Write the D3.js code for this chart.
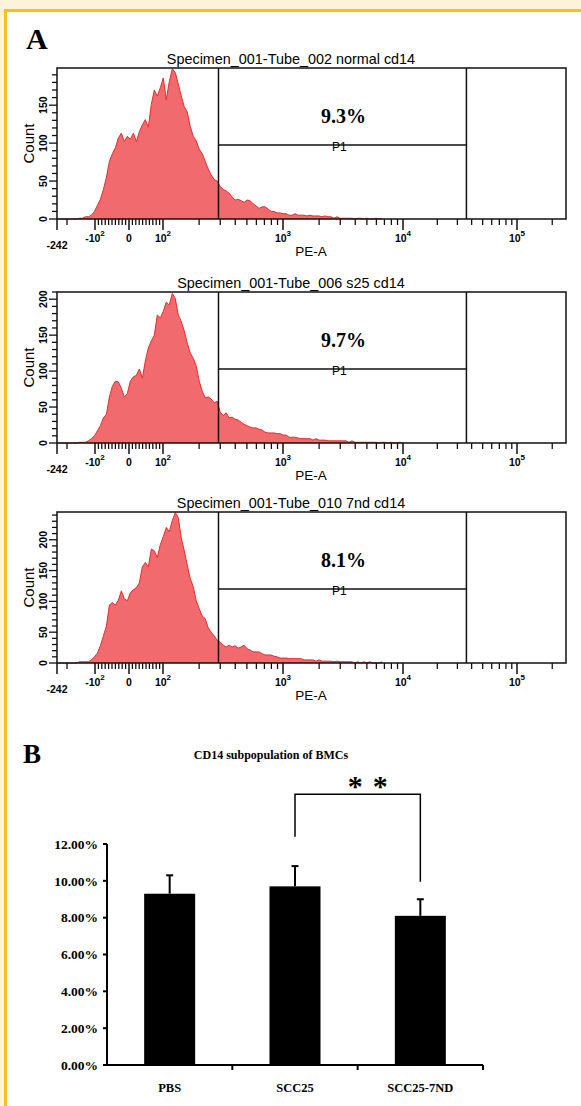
<!DOCTYPE html>
<html>
<head>
<meta charset="utf-8">
<script src="https://cdn.jsdelivr.net/npm/d3@7"></script>
<style>
body { margin: 0; background: #fdf3da; }
svg { display: block; }
</style>
</head>
<body>
<script>
// counts per display channel (170 channels across the PE-A axis)
var normalCounts = [0,0,0,0,0,0,0, 1,1,3,
  3,5,10,18,26,39,55,76,86,94,
  107,113,102,109,105,113,102,115,124,131,
  121,151,170,162,173,186,157,181,198,193,
  178,162,148,141,122,109,103,92,86,76,
  66,58,52,50,43,39,37,34,29,25,
  26,24,22,25,24,20,17,14,16,16,
  13,10,10,8,8,7,7,5,5,7,
  5,5,5,4,5,4,4,4,3,4,
  3,3,1,3,1,1,1,1,1,0,
  1,1,0,1,0,0,1,0,1];
var s25Counts = [0,0,0,0,0,0,0, 1,1,1,
  3,6,10,17,24,35,40,64,79,86,
  85,76,64,69,86,92,94,103,90,114,
  132,142,150,178,174,183,196,192,208,201,
  178,169,156,139,125,118,107,86,72,63,
  64,61,56,58,43,38,42,35,36,33,
  32,29,26,24,22,21,21,19,18,15,
  14,14,14,13,13,11,11,8,8,8,
  7,6,6,6,6,4,6,4,4,4,
  3,3,3,3,3,3,3,1,3,1,
  1,1,1,1,1,1,1,0,1,1,
  0,1,0,0,1,0];
var nd7Counts = [0,0,0,0,0,0,0, 2,2,2,
  2,5,10,16,28,44,60,94,98,94,
  102,117,104,101,114,119,122,130,156,163,
  156,185,182,171,192,205,220,213,231,244,
  236,203,182,159,137,124,101,88,76,72,
  57,50,44,37,34,29,26,29,26,28,
  24,26,29,23,21,18,18,18,15,13,
  13,13,11,10,8,8,8,7,7,7,
  7,7,5,5,5,5,3,5,3,3,
  3,3,2,3,2,2,2,2,2,0,
  2,0,2,0,2,0,0,0,2];
var tubeTitles = ["Specimen_001-Tube_002 normal cd14",
                  "Specimen_001-Tube_006 s25 cd14",
                  "Specimen_001-Tube_010 7nd cd14"];
var gatePercents = ["9.3%", "9.7%", "8.1%"];
var countMax = [199, 210, 245];
var countLabels = [[0, 50, 100, 150], [0, 50, 100, 150, 200], [0, 50, 100, 150, 200]];
var gateRange = [290, 36000];
var peLabelValues = [-242, -100, 0, 100, 1e3, 1e4, 1e5];
var peLabelBase = ["-242", "-10", "0", "10", "10", "10", "10"];
var peLabelSup = ["", "2", "", "2", "3", "4", "5"];

var groups = ["PBS", "SCC25", "SCC25-7ND"];
var means = [9.3, 9.7, 8.1];
var errors = [1.0, 1.1, 0.9];
var pctTicks = [0, 2, 4, 6, 8, 10, 12];
var bracketEnds = [12.4, 9.95];   // SCC25 side, SCC25-7ND side
var bracketTop = 14.7;

var W = 581, H = 1106;
var sans = "'Liberation Sans', Arial, sans-serif";
var serif = "'Liberation Serif', 'Times New Roman', serif";

var svg = d3.select("body").append("svg").attr("width", W).attr("height", H);

// page frame
svg.append("rect").attr("width", W).attr("height", H).attr("fill", "#fdf3da");
svg.append("rect").attr("x", 4).attr("y", 9).attr("width", W - 4).attr("height", H - 9).attr("fill", "#f6c21c");
svg.append("rect").attr("x", 7).attr("y", 12).attr("width", W - 7).attr("height", H - 12).attr("fill", "#fff");

svg.append("text").attr("x", 26).attr("y", 49).text("A")
  .style("font-family", serif).style("font-weight", "bold").style("font-size", "30px");

// ---- panel A: three flow histograms ----
var boxLeft = 57, boxW = 509, boxH = 151, nChannels = 170;
var panelTops = [68, 292, 512];
var histograms = [normalCounts, s25Counts, nd7Counts];

// biexponential-ish display axis: linear near zero, log above 100
var xLin = d3.scaleLinear().domain([-242, -200, -100, 0, 100]).range([0, 10, 38, 72, 106]);
var xLog = d3.scaleLog().domain([1e2, 1e3, 1e4, 1e5, 262144]).range([106, 226, 346, 460, 509]);
function xPE(v) { return boxLeft + (v <= 100 ? xLin(v) : xLog(v)); }

var majorX = [-242, -100, 0, 100, 1e3, 1e4, 1e5];
var minorX = [-200].concat(d3.range(-90, 0, 10), d3.range(10, 100, 10));
[1e2, 1e3, 1e4].forEach(function(dec) {
  d3.range(2, 10).forEach(function(k) { minorX.push(k * dec); });
});
minorX.push(2e5);

var xCh = d3.scaleLinear().domain([0, nChannels]).range([boxLeft, boxLeft + boxW]);

histograms.forEach(function(counts, p) {
  var top = panelTops[p], bottom = top + boxH;
  var g = svg.append("g");
  var y = d3.scaleLinear().domain([0, countMax[p]]).range([bottom, top]);

  var area = d3.area()
    .x(function(d, i) { return xCh(i + 0.5); })
    .y0(bottom)
    .y1(function(d) { return y(d); });
  g.append("path").datum(counts).attr("d", area).attr("fill", "#f06a6e");
  g.append("path").datum(counts).attr("d", area.lineY1())
    .attr("fill", "none").attr("stroke", "#f02828").attr("stroke-width", 1);

  // gate
  var gx0 = xPE(gateRange[0]), gx1 = xPE(gateRange[1]), gy = top + 77;
  g.append("line").attr("x1", gx0).attr("x2", gx0).attr("y1", top).attr("y2", bottom);
  g.append("line").attr("x1", gx1).attr("x2", gx1).attr("y1", top).attr("y2", bottom);
  g.append("line").attr("x1", gx0).attr("x2", gx1).attr("y1", gy).attr("y2", gy);
  g.selectAll("line").attr("stroke", "#111").attr("stroke-width", 1.5);

  g.append("text").attr("x", (gx0 + gx1) / 2 + 1).attr("y", top + 55)
    .attr("text-anchor", "middle").text(gatePercents[p])
    .style("font-family", serif).style("font-weight", "bold").style("font-size", "20px");
  g.append("text").attr("x", (gx0 + gx1) / 2 - 3).attr("y", gy + 6)
    .attr("text-anchor", "middle").text("P1")
    .style("font-family", sans).style("font-size", "12px");

  // frame
  g.append("rect").attr("x", boxLeft).attr("y", top).attr("width", boxW).attr("height", boxH)
    .attr("fill", "none").attr("stroke", "#111").attr("stroke-width", 1.5);

  // y ticks
  g.selectAll(".yt").data(d3.range(0, countMax[p] + 1, 10)).enter().append("line")
    .attr("x1", function(d) { return boxLeft - (d % 50 === 0 ? 8 : 5); })
    .attr("x2", boxLeft)
    .attr("y1", function(d) { return y(d); }).attr("y2", function(d) { return y(d); })
    .attr("stroke", "#111").attr("stroke-width", 1.3);
  g.selectAll(".yl").data(countLabels[p]).enter().append("text")
    .attr("transform", function(d) { return "translate(43," + y(d) + ") rotate(-90)"; })
    .attr("text-anchor", "middle").attr("dy", "0.35em").text(function(d) { return d; })
    .style("font-family", sans).style("font-weight", "bold").style("font-size", "10.5px");
  g.append("text").attr("transform", "translate(34," + (top + boxH / 2) + ") rotate(-90)")
    .attr("text-anchor", "middle").text("Count")
    .style("font-family", sans).style("font-size", "15px");

  // x ticks
  g.selectAll(".xM").data(majorX).enter().append("line")
    .attr("x1", xPE).attr("x2", xPE).attr("y1", bottom).attr("y2", bottom + 11)
    .attr("stroke", "#111").attr("stroke-width", 1.5);
  g.selectAll(".xm").data(minorX).enter().append("line")
    .attr("x1", xPE).attr("x2", xPE).attr("y1", bottom).attr("y2", bottom + 6)
    .attr("stroke", "#111").attr("stroke-width", 1.3);

  var lab = g.selectAll(".xl").data(peLabelValues).enter().append("text")
    .attr("x", xPE)
    .attr("y", function(d, i) { return bottom + (i === 0 ? 30 : 23); })
    .attr("text-anchor", "middle")
    .style("font-family", sans).style("font-weight", "bold").style("font-size", "10.5px");
  lab.append("tspan").text(function(d, i) { return peLabelBase[i]; });
  lab.append("tspan").attr("dy", -6).style("font-size", "8px")
    .text(function(d, i) { return peLabelSup[i]; });

  g.append("text").attr("x", 311).attr("y", bottom + 37).attr("text-anchor", "middle").text("PE-A")
    .style("font-family", sans).style("font-size", "13.5px");

  g.append("text").attr("x", 291).attr("y", top - 4).attr("text-anchor", "middle").text(tubeTitles[p])
    .style("font-family", sans).style("font-size", "14.4px");
});

// ---- panel B: bar chart ----
svg.append("text").attr("x", 23).attr("y", 763).text("B")
  .style("font-family", serif).style("font-weight", "bold").style("font-size", "27px");
svg.append("text").attr("x", 271).attr("y", 759).attr("text-anchor", "middle")
  .text("CD14 subpopulation of BMCs")
  .style("font-family", serif).style("font-weight", "bold").style("font-size", "12px");

var yB = d3.scaleLinear().domain([0, 12]).range([1065, 844]);
var xB = d3.scaleBand().domain(groups).range([107, 483]).paddingInner(0.593).paddingOuter(0.2965);
var cx = function(d) { return xB(d) + xB.bandwidth() / 2; };
var gB = svg.append("g");

gB.selectAll(".bar").data(groups).enter().append("rect")
  .attr("x", function(d) { return xB(d); })
  .attr("width", xB.bandwidth())
  .attr("y", function(d, i) { return yB(means[i]); })
  .attr("height", function(d, i) { return yB(0) - yB(means[i]); })
  .attr("fill", "#000");

gB.selectAll(".err").data(groups).enter().append("line")
  .attr("x1", cx).attr("x2", cx)
  .attr("y1", function(d, i) { return yB(means[i]); })
  .attr("y2", function(d, i) { return yB(means[i] + errors[i]); })
  .attr("stroke", "#000").attr("stroke-width", 2);
gB.selectAll(".cap").data(groups).enter().append("line")
  .attr("x1", function(d) { return cx(d) - 3.5; }).attr("x2", function(d) { return cx(d) + 3.5; })
  .attr("y1", function(d, i) { return yB(means[i] + errors[i]); })
  .attr("y2", function(d, i) { return yB(means[i] + errors[i]); })
  .attr("stroke", "#000").attr("stroke-width", 2);

// axes
gB.append("line").attr("x1", 107).attr("x2", 107).attr("y1", yB(12)).attr("y2", yB(0))
  .attr("stroke", "#000").attr("stroke-width", 2);
gB.append("line").attr("x1", 106).attr("x2", 483).attr("y1", yB(0)).attr("y2", yB(0))
  .attr("stroke", "#000").attr("stroke-width", 2);
gB.selectAll(".ytk").data(pctTicks).enter().append("line")
  .attr("x1", 103).attr("x2", 107)
  .attr("y1", function(d) { return yB(d); }).attr("y2", function(d) { return yB(d); })
  .attr("stroke", "#000").attr("stroke-width", 2);
gB.selectAll(".ylb").data(pctTicks).enter().append("text")
  .attr("x", 98).attr("y", function(d) { return yB(d); }).attr("dy", "0.35em")
  .attr("text-anchor", "end").text(function(d) { return d3.format(".2f")(d) + "%"; })
  .style("font-family", serif).style("font-weight", "bold").style("font-size", "13.5px");
gB.selectAll(".xtk").data(groups).enter().append("line")
  .attr("x1", function(d) { return xB(d) + xB.bandwidth() / 2 + xB.step() / 2; })
  .attr("x2", function(d) { return xB(d) + xB.bandwidth() / 2 + xB.step() / 2; })
  .attr("y1", yB(0)).attr("y2", yB(0) + 5)
  .attr("stroke", "#000").attr("stroke-width", 2);
gB.selectAll(".xlb").data(groups).enter().append("text")
  .attr("x", cx).attr("y", 1092).attr("text-anchor", "middle").text(function(d) { return d; })
  .style("font-family", serif).style("font-weight", "bold").style("font-size", "12.5px");

// significance bracket
var bx0 = cx("SCC25"), bx1 = cx("SCC25-7ND");
gB.append("path")
  .attr("d", "M" + bx0 + "," + yB(bracketEnds[0]) + "V" + yB(bracketTop) +
             "H" + bx1 + "V" + yB(bracketEnds[1]))
  .attr("fill", "none").attr("stroke", "#000").attr("stroke-width", 1.5);
var starMid = (bx0 + bx1) / 2 + 10;
[-12.5, 12.5].forEach(function(o) {
  gB.append("text").attr("x", starMid + o).attr("y", yB(bracketTop) + 2)
    .attr("text-anchor", "middle").text("*")
    .style("font-family", serif).style("font-weight", "bold").style("font-size", "30px");
});
</script>
</body>
</html>
